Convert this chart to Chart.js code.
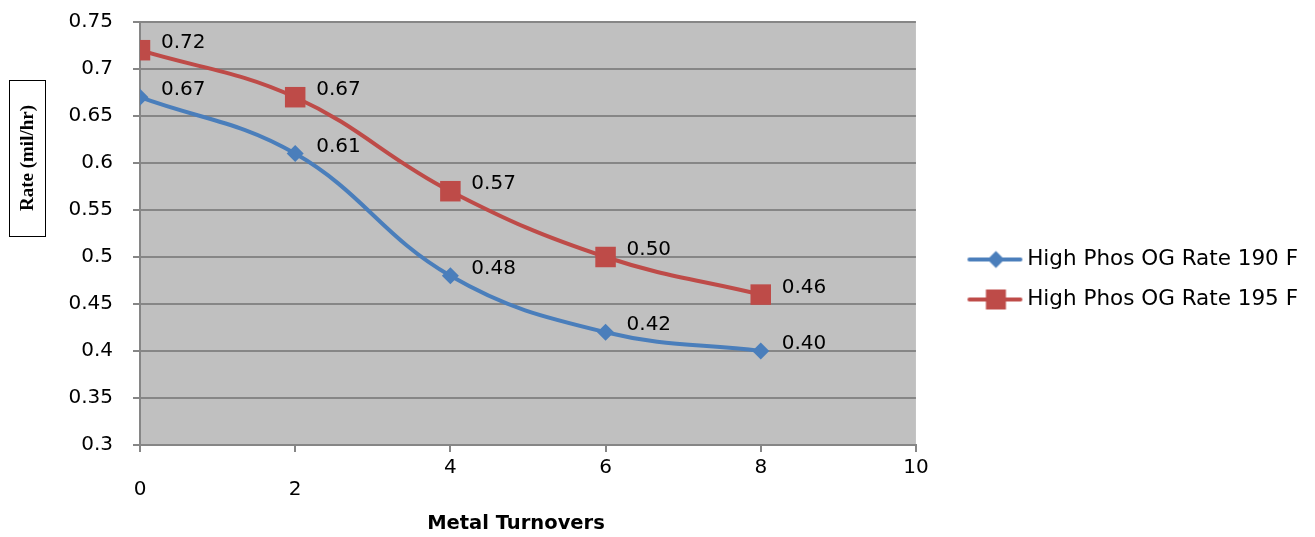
<!DOCTYPE html>
<html><head><meta charset="utf-8">
<script src="https://cdn.jsdelivr.net/npm/chart.js@4.4.0/dist/chart.umd.min.js"></script>
<style>html,body{margin:0;padding:0;background:#fff}#wrap{width:1315px;height:537px;position:relative}</style>
</head><body><div id="wrap"><canvas id="c" width="1315" height="537"></canvas></div>
<script>
const turnovers = [0, 2, 4, 6, 8];
const rate190 = [0.67, 0.61, 0.48, 0.42, 0.40];
const rate195 = [0.72, 0.67, 0.57, 0.50, 0.46];
const seriesNames = ['High Phos OG Rate 190 F', 'High Phos OG Rate 195 F'];
const yTickLabels = ['0.3', '0.35', '0.4', '0.45', '0.5', '0.55', '0.6', '0.65', '0.7', '0.75'];
const xTickLabels = ['0', '2', '4', '6', '8', '10'];
const xTitle = 'Metal Turnovers';
const yTitle = 'Rate (mil/hr)';

const BLUE = '#4a7ebb', RED = '#be4b48';
const FONT = 'DejaVu Sans';

function makeIcon(color, style) {
  const c = document.createElement('canvas');
  c.width = 64; c.height = 24;
  const g = c.getContext('2d');
  g.strokeStyle = color; g.lineWidth = 4; g.lineCap = 'round';
  g.beginPath(); g.moveTo(10, 12); g.lineTo(61, 12); g.stroke();
  g.fillStyle = color;
  if (style === 'diamond') {
    g.beginPath(); g.moveTo(36.5, 3.5); g.lineTo(45, 12); g.lineTo(36.5, 20.5); g.lineTo(28, 12); g.closePath(); g.fill();
  } else {
    g.fillRect(26.5, 2, 20, 20);
  }
  return c;
}
const icons = [makeIcon(BLUE, 'diamond'), makeIcon(RED, 'square')];

const pts = (ys) => turnovers.map((x, i) => ({x: x, y: ys[i]}));

const bgPlugin = {
  id: 'plotBg',
  beforeDraw(chart) {
    const a = chart.chartArea, ctx = chart.ctx;
    ctx.save(); ctx.fillStyle = '#c0c0c0';
    ctx.fillRect(a.left, a.top, a.right - a.left, a.bottom - a.top);
    ctx.restore();
  }
};
const labelPlugin = {
  id: 'valueLabels',
  afterDatasetsDraw(chart) {
    const ctx = chart.ctx;
    ctx.save();
    ctx.font = '20px "' + FONT + '"';
    ctx.fillStyle = '#000'; ctx.textAlign = 'left'; ctx.textBaseline = 'middle';
    chart.data.datasets.forEach((ds, di) => {
      const meta = chart.getDatasetMeta(di);
      meta.data.forEach((el, i) => {
        ctx.fillText(ds.data[i].y.toFixed(2), el.x + 21, el.y - 7);
      });
    });
    ctx.restore();
  }
};
const titlePlugin = {
  id: 'axisTitles',
  afterDraw(chart) {
    const ctx = chart.ctx, a = chart.chartArea;
    ctx.save();
    ctx.fillStyle = '#000'; ctx.textAlign = 'center'; ctx.textBaseline = 'middle';
    ctx.font = 'bold 19.5px "' + FONT + '"';
    ctx.fillText(xTitle, (a.left + a.right) / 2 - 12, a.bottom + 79);
    ctx.strokeStyle = '#000'; ctx.lineWidth = 1;
    ctx.strokeRect(9.5, 80.5, 36, 156);
    ctx.translate(28, 158);
    ctx.rotate(-Math.PI / 2);
    ctx.font = 'bold 19px "Liberation Serif"';
    ctx.fillText(yTitle, 0, 0);
    ctx.restore();
  }
};

new Chart(document.getElementById('c'), {
  type: 'line',
  data: {
    datasets: [
      { label: seriesNames[0], data: pts(rate190), borderColor: BLUE, backgroundColor: BLUE,
        borderWidth: 4, tension: 0.4, pointStyle: 'rectRot', pointRadius: 8.5, pointHoverRadius: 8.5,
        pointBorderWidth: 0, fill: false },
      { label: seriesNames[1], data: pts(rate195), borderColor: RED, backgroundColor: RED,
        borderWidth: 4, tension: 0.4, pointStyle: 'rect', pointRadius: 14.5, pointHoverRadius: 14.5,
        pointBorderWidth: 0, fill: false }
    ]
  },
  options: {
    responsive: false, animation: false, devicePixelRatio: 1,
    layout: { padding: { top: 22, right: 7, left: 0, bottom: 0 } },
    plugins: {
      tooltip: { enabled: false },
      legend: {
        position: 'right', maxWidth: 366,
        labels: {
          usePointStyle: true, pointStyleWidth: 50, padding: 18.5,
          font: { family: FONT, size: 21.5 }, color: '#000',
          generateLabels(chart) {
            return chart.data.datasets.map((ds, i) => ({
              text: ds.label, pointStyle: icons[i], datasetIndex: i, fontColor: '#000',
              fillStyle: ds.borderColor, strokeStyle: ds.borderColor, lineWidth: 0, hidden: false
            }));
          }
        }
      }
    },
    scales: {
      x: {
        type: 'linear', min: 0, max: 10,
        afterBuildTicks(s) { s.ticks = xTickLabels.map(v => ({ value: Number(v) })); },
        afterFit(s) { s.height = 92; },
        ticks: {
          color: '#000', font: { family: FONT, size: 20, lineHeight: 1.1 }, padding: 5, maxRotation: 0,
          callback(v) { const t = String(v); return (t === '0' || t === '2') ? ['', t] : t; }
        },
        grid: { drawOnChartArea: false, color: '#868686', lineWidth: 2, tickLength: 7 },
        border: { color: '#868686', width: 2 },
        title: { display: false, text: xTitle }
      },
      y: {
        min: 0.3, max: 0.75,
        afterBuildTicks(s) { s.ticks = yTickLabels.map(v => ({ value: Number(v) })); },
        afterFit(s) { s.width = 140; s.paddingTop = 0; s.paddingBottom = 0; },
        ticks: {
          color: '#000', font: { family: FONT, size: 20 }, padding: 20,
          callback(v) { return yTickLabels.find(t => Math.abs(Number(t) - v) < 1e-6) || ''; }
        },
        grid: { color: '#868686', lineWidth: 2, tickLength: 7 },
        border: { color: '#868686', width: 2 },
        title: { display: false, text: yTitle }
      },
      y2: {
        position: 'right', display: true,
        afterFit(s) { s.width = 32; s.paddingTop = 0; s.paddingBottom = 0; },
        ticks: { display: false }, grid: { display: false }, border: { display: false }
      }
    }
  },
  plugins: [bgPlugin, labelPlugin, titlePlugin]
});
</script></body></html>
